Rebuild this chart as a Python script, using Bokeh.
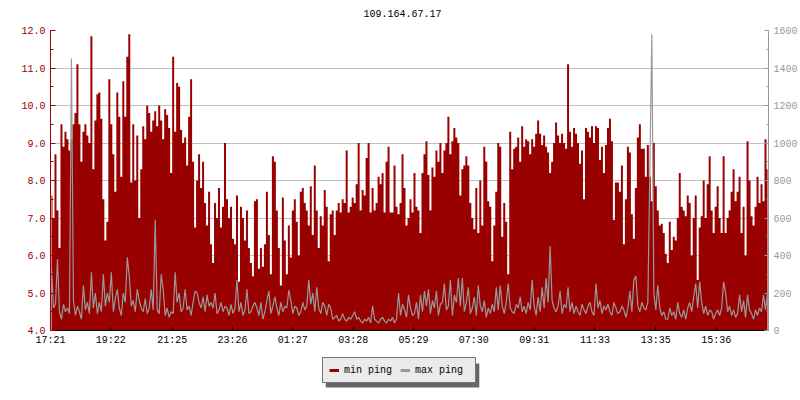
from bokeh.plotting import figure
from bokeh.layouts import column
from bokeh.models import (Range1d, LinearAxis, FixedTicker, Legend, LegendItem,
                          ColumnDataSource, NumeralTickFormatter, Label)
from bokeh.embed import file_html
from bokeh.resources import INLINE

title_text = "109.164.67.17"
start_label = "17:21"
step_minutes = 4
tick_labels = ["17:21", "19:22", "21:25", "23:26", "01:27", "03:28",
               "05:29", "07:30", "09:31", "11:33", "13:35", "15:36"]
series_names = ["min ping", "max ping"]

# min ping (left axis), one value per 4 minutes
min_ping = [
    7.6, 7.0, 8.7, 7.2, 6.2, 9.5, 8.9, 9.3, 9.1, 8.8, 9.1, 9.5, 9.8, 11.1, 9.5, 8.5, 9.3, 9.5, 9.2, 9.0,
    11.85, 8.3, 9.6, 10.3, 10.35, 9.65, 7.5, 6.4, 6.9, 10.7, 9.5, 8.7, 7.7, 10.35, 9.7, 8.1, 10.65, 9.7, 11.3, 11.9,
    7.95, 9.5, 8.0, 9.2, 7.0, 8.3, 9.45, 9.1, 10.0, 9.8, 9.3, 9.6,
    9.85, 9.45, 10.0, 9.6, 9.1, 9.9, 9.75, 9.4, 8.2, 11.3, 9.3, 10.6, 10.5, 9.35, 9.0, 9.15, 8.4, 9.7, 10.7, 8.5,
    6.75, 8.0, 8.7, 7.8, 8.5, 7.4, 6.8, 7.7, 6.3, 5.8, 7.4, 7.0, 7.8, 6.75, 7.3, 9.0, 7.5, 7.0, 7.3, 6.45,
    6.3, 7.6, 5.3, 7.3, 7.0, 6.4, 7.2, 6.2, 5.8, 5.45, 7.45,
    7.5, 5.65, 6.2, 5.7, 6.3, 7.7, 6.55, 5.5, 8.65, 8.5, 7.2, 6.2, 5.2, 7.55, 6.4, 5.5, 6.8, 5.95, 7.2, 7.5,
    6.9, 6.0, 7.7, 7.8, 7.4, 7.2, 6.8, 7.85, 6.55, 8.4, 7.2, 6.2, 7.05, 6.8, 7.75, 7.3, 5.85, 7.1, 7.2, 6.55,
    7.2, 7.4, 7.15, 7.5, 7.4, 8.8, 7.15, 7.3, 7.55, 7.4, 7.9, 9.0,
    7.2, 7.75, 7.6, 8.6, 9.0, 7.15, 7.8, 7.2, 7.4, 8.1, 7.9, 8.2, 7.15, 8.5, 8.9, 7.15, 7.15, 8.4, 7.3, 7.1,
    7.4, 8.7, 7.8, 6.8, 7.0, 7.5, 7.15, 8.2, 7.3, 7.2, 6.6, 8.2, 8.7, 9.05, 8.15, 7.2, 8.35, 8.1, 8.8, 8.5,
    9.0, 8.2, 8.8, 9.0, 9.7, 8.7, 9.05, 9.4, 9.15, 9.0, 7.6,
    8.3, 8.4, 8.65, 8.4, 7.4, 7.0, 6.7, 7.8, 6.6, 8.0, 6.8, 8.9, 8.5, 7.45, 7.3, 5.85, 6.8, 7.7, 9.0, 8.9,
    6.5, 7.4, 6.9, 5.5, 9.3, 8.3, 8.85, 8.9, 9.15, 8.5, 9.45, 8.9, 9.1, 9.05, 8.7, 9.1, 8.9, 9.25, 9.6, 9.25,
    8.95, 9.2, 8.9, 8.75, 8.2, 8.5, 9.0, 9.55, 9.2, 9.0, 9.25, 9.0,
    8.85, 11.1, 9.3, 8.9, 9.4, 9.25, 9.0, 8.45, 8.8, 7.5, 9.4, 9.3, 9.15, 9.45, 9.0, 9.45, 9.4, 8.55, 8.9, 8.2,
    8.95, 9.4, 9.65, 9.05, 6.95, 7.95, 7.95, 7.7, 8.4, 6.3, 7.5, 8.9, 8.75, 7.1, 6.45, 7.8, 9.15, 9.5, 8.85, 8.85,
    8.1, 8.95, 8.1, 7.45, 9.0, 7.85, 7.2, 6.8, 6.85, 6.6, 6.05,
    5.8, 6.9, 6.15, 6.5, 6.4, 7.0, 8.2, 7.3, 7.2, 7.05, 7.6, 7.4, 6.0, 7.0, 7.6, 5.35, 6.75, 7.05, 8.0, 7.0,
    7.9, 8.65, 7.2, 6.6, 7.3, 7.85, 7.0, 6.6, 8.65, 6.6, 7.0, 7.2, 7.7, 8.3, 7.45, 7.7, 8.1, 6.6, 7.3, 6.0,
    9.05, 8.0, 7.05, 6.8, 7.3, 8.1, 7.4, 7.9, 7.45, 9.1, 8.3,
]

# max ping (ms, right axis)
max_ping = [
    330, 120, 140, 380, 100, 60, 140, 100, 120, 90, 1450, 160, 80, 130, 100, 60, 240, 110, 150, 90,
    310, 120, 200, 90, 150, 100, 300, 130, 200, 150, 310, 100, 170, 220, 120, 80, 200, 150, 390, 290,
    130, 160, 100, 220, 160, 120, 100, 170, 90, 120, 220, 110,
    590, 110, 90, 300, 220, 80, 120, 70, 100, 90, 310, 150, 200, 100, 120, 220, 110, 130, 80, 150,
    210, 200, 150, 120, 180, 100, 190, 130, 150, 120, 200, 90, 110, 150, 100, 130, 120, 80, 140, 90,
    120, 270, 100, 150, 80, 110, 220, 90, 100, 130, 150,
    120, 80, 150, 60, 100, 160, 210, 90, 130, 180, 120, 80, 150, 100, 130, 120, 215, 160, 90, 130,
    120, 80, 100, 150, 110, 130, 270, 140, 200, 100, 230, 120, 90, 150, 130, 80, 140, 120, 60, 70,
    80, 50, 60, 90, 60, 50, 70, 60, 80, 100, 60, 70,
    50, 40, 60, 50, 70, 40, 130, 60, 50, 40, 60, 70, 50, 40, 60, 50, 70, 40, 60, 200,
    80, 140, 110, 70, 190, 120, 80, 90, 150, 60, 190, 100, 210, 130, 220, 90, 160, 120, 210, 80,
    140, 150, 250, 110, 130, 270, 80, 190, 150, 280, 130,
    280, 100, 150, 230, 90, 120, 180, 80, 240, 130, 100, 160, 70, 120, 90, 140, 100, 230, 110, 240,
    130, 90, 150, 250, 120, 100, 90, 140, 120, 180, 100, 130, 90, 150, 110, 270, 130, 80, 180, 100,
    230, 120, 280, 150, 450, 160, 120, 100, 130, 210, 90, 140,
    120, 230, 100, 150, 90, 130, 100, 80, 140, 110, 90, 130, 150, 100, 80, 250, 120, 160, 90, 130,
    110, 140, 100, 80, 150, 120, 90, 100, 130, 110, 70, 120, 210, 100, 270, 290, 130, 100, 150, 120,
    110, 150, 850, 1580, 200, 110, 240, 120, 80, 100, 60,
    60, 120, 80, 100, 60, 150, 90, 70, 110, 60, 120, 150, 100, 180, 250, 120, 260, 150, 90, 130,
    80, 110, 100, 60, 90, 110, 80, 120, 260, 200, 100, 130, 80, 110, 70, 90, 190, 100, 160, 70,
    190, 110, 90, 60, 110, 80, 120, 100, 190, 110, 200,
]

left_ticks = [4, 5, 6, 7, 8, 9, 10, 11, 12]
right_ticks = [0, 200, 400, 600, 800, 1000, 1200, 1400, 1600]


def to_offset(lbl):
    h, m = map(int, lbl.split(":"))
    sh, sm = map(int, start_label.split(":"))
    return ((h * 60 + m) - (sh * 60 + sm)) % 1440


n = len(min_ping)
t = [i * step_minutes + step_minutes / 2 for i in range(n)]
span = n * step_minutes
src = ColumnDataSource(dict(t=t, min_ping=min_ping, max_ping=max_ping))

FONT = "Liberation Mono"
RED = "#990000"
GRAY = "#999999"


def strip(height):
    # pixel-space strip whose frame is aligned with the chart frame (page x 50..770)
    s = figure(width=800, height=height, output_backend="svg", toolbar_location=None,
               x_range=Range1d(50, 770), y_range=Range1d(height, 0),
               x_axis_type=None, y_axis_type=None, min_border=0)
    s.outline_line_color = None
    s.xgrid.visible = False
    s.ygrid.visible = False
    s.background_fill_color = "white"
    s.border_fill_color = "white"
    return s


# title strip
top = strip(22)
top.add_layout(Label(x=403, y=13, text=title_text, text_align="center",
                     text_baseline="middle", text_font=FONT,
                     text_font_size="10px", text_color="black"))

p = figure(width=800, height=328, output_backend="svg", toolbar_location=None,
           x_range=Range1d(0, span), y_range=Range1d(4, 12),
           min_border_left=50, min_border_right=30, min_border_top=8,
           min_border_bottom=20)
p.extra_y_ranges = {"max": Range1d(0, 1600)}
p.outline_line_color = None
p.background_fill_color = "white"
p.border_fill_color = "white"

# min ping as a filled step area, max ping as a thin line
p.varea_step(x="t", y1=4.0, y2="min_ping", step_mode="center", source=src,
             fill_color=RED)
p.line(x="t", y="max_ping", y_range_name="max", source=src,
       line_color=GRAY, line_width=1.2)

# axes
offsets = [to_offset(l) for l in tick_labels]
xa = p.xaxis[0]
xa.ticker = FixedTicker(ticks=offsets, minor_ticks=[])
xa.major_label_overrides = {o: l for o, l in zip(offsets, tick_labels)}
xa.axis_line_color = "black"
xa.major_tick_line_color = "black"
xa.major_tick_in = 4
xa.major_tick_out = 0
xa.major_label_text_font = FONT
xa.major_label_text_font_size = "10px"
xa.major_label_text_color = "black"
xa.major_label_standoff = 4

ya = p.yaxis[0]
ya.ticker = FixedTicker(ticks=left_ticks,
                        minor_ticks=[v + 0.5 for v in left_ticks[:-1]])
ya.formatter = NumeralTickFormatter(format="0.0")
ya.axis_line_color = RED
ya.major_tick_line_color = RED
ya.minor_tick_line_color = RED
ya.major_tick_in = 5
ya.major_tick_out = 0
ya.minor_tick_in = 3
ya.minor_tick_out = 0
ya.major_label_text_font = FONT
ya.major_label_text_font_size = "10px"
ya.major_label_text_color = RED
ya.major_label_standoff = 5

ra = LinearAxis(y_range_name="max",
                ticker=FixedTicker(ticks=right_ticks,
                                   minor_ticks=[v + 100 for v in right_ticks[:-1]]))
ra.axis_line_color = GRAY
ra.major_tick_line_color = GRAY
ra.minor_tick_line_color = GRAY
ra.major_tick_in = 4
ra.major_tick_out = 0
ra.minor_tick_in = 2
ra.minor_tick_out = 0
ra.major_label_text_font = FONT
ra.major_label_text_font_size = "10px"
ra.major_label_text_color = GRAY
ra.major_label_standoff = 5
p.add_layout(ra, "right")

p.xgrid.visible = False
p.ygrid.grid_line_color = "#c0c0c0"
p.ygrid.grid_line_width = 1

# legend strip
lg = strip(50)

# drop shadow of the legend box
lg.quad(left=[326], right=[480], top=[13], bottom=[37],
        fill_color="#666666", line_color=None)

# legend sample lines (kept outside the visible range)
r_min = lg.line(x=[0, 1], y=[0, 0], line_color=RED, line_width=3)
r_max = lg.line(x=[0, 1], y=[0, 0], line_color=GRAY, line_width=3)
legend = Legend(items=[LegendItem(label=series_names[0], renderers=[r_min]),
                       LegendItem(label=series_names[1], renderers=[r_max])],
                orientation="horizontal", location=(272, 17),
                background_fill_color="#ebebeb", background_fill_alpha=1.0,
                border_line_color="black", border_line_width=1,
                padding=6, spacing=2, margin=0,
                glyph_width=10, glyph_height=12, label_height=12, label_width=54,
                label_standoff=5, label_text_font=FONT, label_text_font_size="10px",
                label_text_color="black")
lg.add_layout(legend)

layout = column(top, p, lg, spacing=0)
open("out.html", "w").write(file_html(layout, INLINE))
